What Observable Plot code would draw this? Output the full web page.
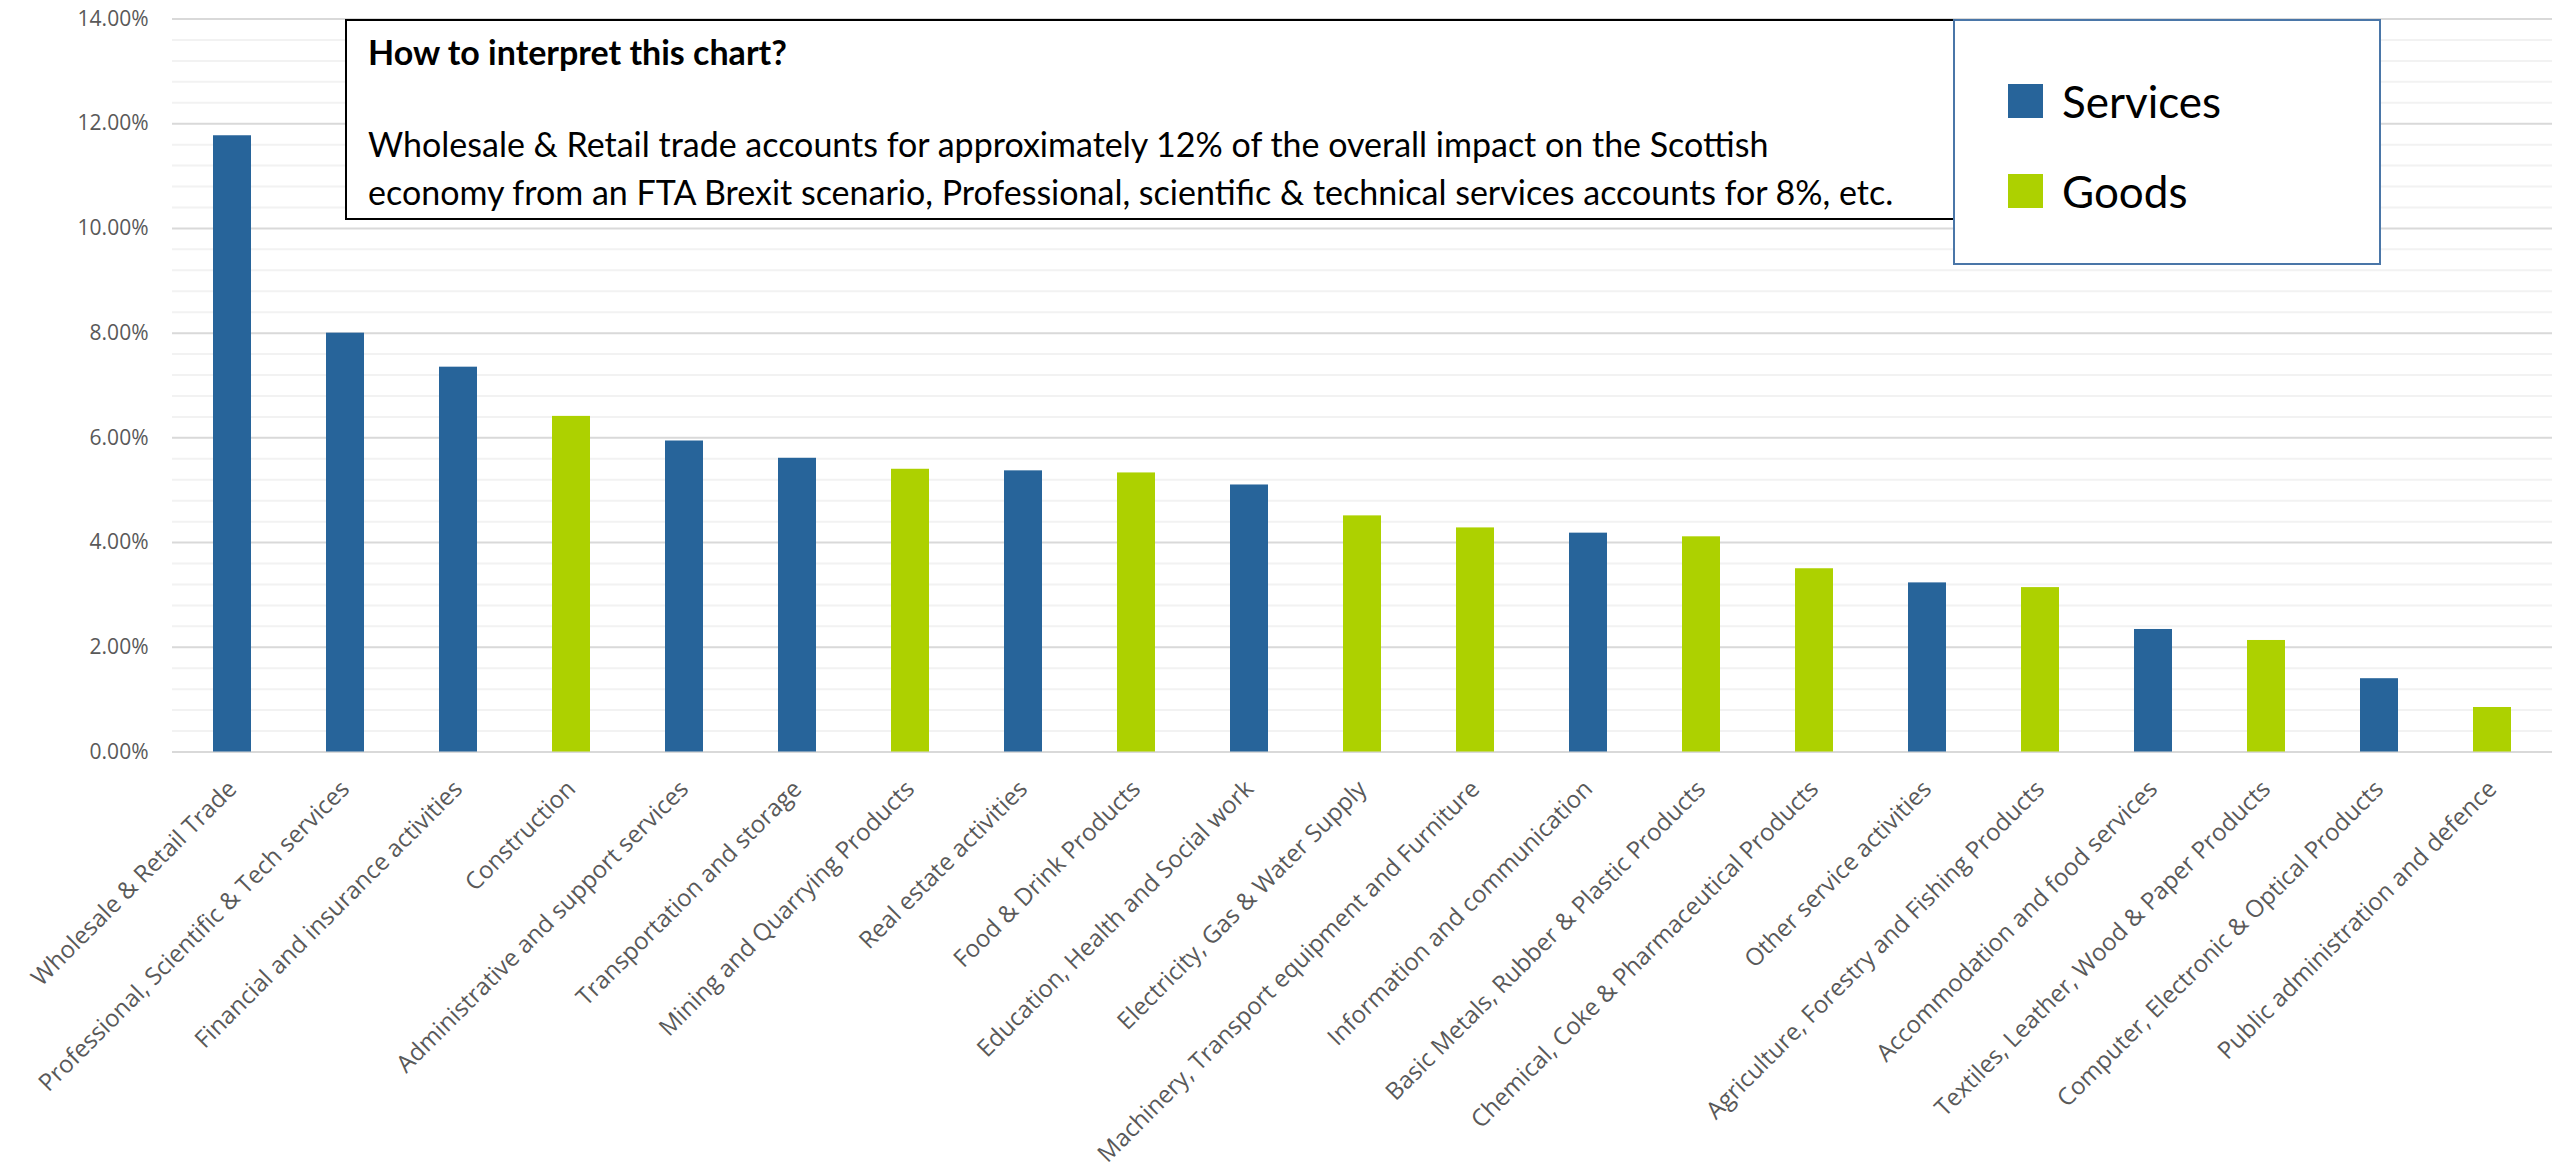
<!DOCTYPE html>
<html>
<head>
<meta charset="utf-8">
<script src="https://cdn.jsdelivr.net/npm/d3@7"></script>
<script src="https://cdn.jsdelivr.net/npm/@observablehq/plot@0.6"></script>
<style>
  body { margin: 0; background: #fff; }
  #chart { position: relative; width: 2552px; height: 1171px; overflow: hidden; }
  #chart svg { display: block; }
  .note {
    position: absolute; left: 345px; top: 19px; width: 1610px; height: 201px;
    box-sizing: border-box; border: 2px solid #000; background: #fff;
    font-family: Lato, "Open Sans", sans-serif; color: #000;
  }
  .note .head { position: absolute; left: 21px; top: 12px; font-weight: bold; font-size: 34px; line-height: 38px; }
  .note .body { position: absolute; left: 21px; top: 99px; font-size: 34px; line-height: 48px; white-space: nowrap; }
  .legend {
    position: absolute; left: 1953px; top: 19px; width: 428px; height: 246px;
    box-sizing: border-box; border: 2px solid #4a76a8; background: #fff;
    font-family: Lato, "Open Sans", sans-serif; color: #000;
  }
  .legend .item { position: absolute; left: 53px; height: 36px; display: flex; align-items: center; }
  .legend .sw { width: 35px; height: 34px; margin-right: 19px; }
  .legend .lab { font-size: 44px; line-height: 36px; }
</style>
</head>
<body>
<div id="chart"></div>
<script>
// Share of the overall impact of an FTA Brexit scenario on the Scottish economy, by sector
const sectors = [
  "Wholesale & Retail Trade",
  "Professional, Scientific & Tech services",
  "Financial and insurance activities",
  "Construction",
  "Administrative and support services",
  "Transportation and storage",
  "Mining and Quarrying Products",
  "Real estate activities",
  "Food & Drink Products",
  "Education, Health and Social work",
  "Electricity, Gas & Water Supply",
  "Machinery, Transport equipment and Furniture",
  "Information and communication",
  "Basic Metals, Rubber & Plastic Products",
  "Chemical, Coke & Pharmaceutical Products",
  "Other service activities",
  "Agriculture, Forestry and Fishing Products",
  "Accommodation and food services",
  "Textiles, Leather, Wood & Paper Products",
  "Computer, Electronic & Optical Products",
  "Public administration and defence"
];
const shares = [
  0.1177, 0.0800, 0.0735, 0.0641, 0.0594, 0.0561, 0.0540, 0.0537, 0.0533, 0.0510, 0.0451,
  0.0428, 0.0418, 0.0411, 0.0350, 0.0323, 0.0314, 0.0234, 0.0213, 0.0140, 0.0085
];
const types = [
  "Services", "Services", "Services", "Goods", "Services", "Services", "Goods", "Services", "Goods", "Services", "Goods",
  "Goods", "Services", "Goods", "Goods", "Services", "Goods", "Services", "Goods", "Services", "Goods"
];
const seriesNames = ["Services", "Goods"];
const seriesColors = ["#27649a", "#add100"];
const yTicks = [0, 0.02, 0.04, 0.06, 0.08, 0.10, 0.12, 0.14];
const minorStep = 0.004;

const noteHead = "How to interpret this chart?";
const noteLines = [
  "Wholesale & Retail trade accounts for approximately 12% of the overall impact on the Scottish",
  "economy from an FTA Brexit scenario, Professional, scientific & technical services accounts for 8%, etc."
];

const data = sectors.map((s, i) => ({sector: s, share: shares[i], type: types[i]}));
const minorTicks = d3.range(0, 0.1401, minorStep).filter(v => !yTicks.some(t => Math.abs(t - v) < 1e-6));

const chart = Plot.plot({
  width: 2552,
  height: 1171,
  marginLeft: 172,
  marginRight: 0,
  marginTop: 18.5,
  marginBottom: 419.5,
  style: {fontFamily: "'Open Sans', sans-serif", color: "#595959", background: "#fff"},
  x: {domain: sectors, paddingInner: 0.66, paddingOuter: 0.33, axis: null},
  y: {domain: [0, 0.14], axis: null},
  color: {domain: seriesNames, range: seriesColors},
  marks: [
    Plot.ruleY(minorTicks, {stroke: "#f2f2f2", strokeWidth: 2}),
    Plot.ruleY(yTicks, {stroke: "#d9d9d9", strokeWidth: 2}),
    Plot.axisY({
      ticks: yTicks,
      tickFormat: d => (d * 100).toFixed(2) + "%",
      tickSize: 0,
      tickPadding: 24,
      fontSize: 21,
      fill: "#595959",
      label: null
    }),
    Plot.barY(data, {x: "sector", y: "share", fill: "type"}),
    Plot.text(data, {
      x: "sector",
      text: "sector",
      frameAnchor: "bottom",
      dy: 33,
      rotate: -45,
      textAnchor: "end",
      lineAnchor: "middle",
      fontSize: 24,
      fill: "#595959"
    })
  ]
});

const root = document.getElementById("chart");
root.appendChild(chart);

// Explanatory note box
const note = document.createElement("div");
note.className = "note";
const head = document.createElement("div");
head.className = "head";
head.textContent = noteHead;
note.appendChild(head);
const body = document.createElement("div");
body.className = "body";
noteLines.forEach(t => {
  const line = document.createElement("div");
  line.textContent = t;
  body.appendChild(line);
});
note.appendChild(body);
root.appendChild(note);

// Series legend box
const legend = document.createElement("div");
legend.className = "legend";
const itemTops = [62, 152];
seriesNames.forEach((name, i) => {
  const item = document.createElement("div");
  item.className = "item";
  item.style.top = itemTops[i] + "px";
  const sw = document.createElement("div");
  sw.className = "sw";
  sw.style.background = seriesColors[i];
  const lab = document.createElement("div");
  lab.className = "lab";
  lab.textContent = name;
  item.appendChild(sw);
  item.appendChild(lab);
  legend.appendChild(item);
});
root.appendChild(legend);
</script>
</body>
</html>
